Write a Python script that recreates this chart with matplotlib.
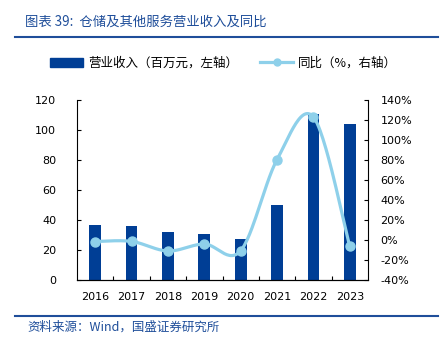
import matplotlib
matplotlib.use("Agg")
import matplotlib.pyplot as plt
import numpy as np
from matplotlib.ticker import FuncFormatter

plt.rcParams['font.family'] = ['Noto Sans CJK SC', 'DejaVu Sans']

years = ['2016', '2017', '2018', '2019', '2020', '2021', '2022', '2023']
revenue = [36.7, 36.2, 32.2, 30.9, 27.6, 49.8, 110.8, 103.8]   # 百万元
yoy = [-1.5, -1.4, -11.0, -4.0, -10.7, 80.5, 123.0, -6.3]       # %

bar_color = '#003E95'
line_color = '#8ED0EA'
title_color = '#1F4E9A'


def smooth(xs, ys, n=30):
    # bezier smoothing through the points, like excel's smoothed line
    xs = np.asarray(xs, float)
    ys = np.asarray(ys, float)
    px, py = [], []
    for i in range(len(xs) - 1):
        x0, y0 = xs[max(i - 1, 0)], ys[max(i - 1, 0)]
        x1, y1 = xs[i], ys[i]
        x2, y2 = xs[i + 1], ys[i + 1]
        x3, y3 = xs[min(i + 2, len(xs) - 1)], ys[min(i + 2, len(xs) - 1)]
        c1x, c1y = x1 + (x2 - x0) / 6, y1 + (y2 - y0) / 6
        c2x, c2y = x2 - (x3 - x1) / 6, y2 - (y3 - y1) / 6
        t = np.linspace(0, 1, n)
        px.extend((1-t)**3*x1 + 3*(1-t)**2*t*c1x + 3*(1-t)*t**2*c2x + t**3*x2)
        py.extend((1-t)**3*y1 + 3*(1-t)**2*t*c1y + 3*(1-t)*t**2*c2y + t**3*y2)
    return px, py


fig = plt.figure(figsize=(4.47, 3.42), dpi=100)
ax = fig.add_axes([77/447, 1 - 280/342, 291/447, 180/342])
x = np.arange(len(years))
ax.bar(x, revenue, width=0.32, color=bar_color, zorder=2)
ax.set_xlim(-0.5, len(years) - 0.5)
ax.set_ylim(0, 120)
ax.set_yticks(np.arange(0, 121, 20))
ax.set_xticks(x)
ax.set_xticklabels(years, fontsize=8, family='DejaVu Sans')
ax.set_xticks(np.arange(0.5, len(years) - 1, 1), minor=True)
ax.tick_params(axis='x', which='major', length=0, pad=9)
ax.tick_params(axis='x', which='minor', direction='in', length=3, width=0.8)
ax.tick_params(axis='y', direction='in', length=3, width=0.8, labelsize=8, pad=15)
for lab in ax.get_yticklabels():
    lab.set_family('DejaVu Sans')
ax.spines['top'].set_visible(False)
ax.spines['right'].set_visible(False)

ax2 = ax.twinx()
sx, sy = smooth(x, yoy)
ax2.plot(sx, sy, color=line_color, lw=2.3, zorder=3)
ax2.plot(x, yoy, 'o', color=line_color, ms=6.5, zorder=4)
ax2.set_ylim(-40, 140)
ax2.set_yticks(np.arange(-40, 141, 20))
ax2.yaxis.set_major_formatter(FuncFormatter(lambda v, p: f'{v:.0f}%'))
ax2.tick_params(axis='y', direction='in', length=3, width=0.8, labelsize=8, pad=9)
for lab in ax2.get_yticklabels():
    lab.set_family('DejaVu Sans')
ax2.spines['top'].set_visible(False)
ax2.spines['left'].set_visible(False)
ax2.set_zorder(ax.get_zorder() + 1)
ax2.patch.set_visible(False)

# legend
h1 = plt.Rectangle((0, 0), 1, 1, color=bar_color)
h2, = plt.plot([], [], color=line_color, lw=2.3, marker='o', ms=5)
fig.legend([h1, h2], ['营业收入（百万元，左轴）', '同比（%，右轴）'],
           loc='center', bbox_to_anchor=(0.5, 1 - 63/342), ncol=2, frameon=False,
           fontsize=9, handlelength=2.6, columnspacing=1.8, handletextpad=0.4)

# title and footer
fig.text(25/447, 1 - 22/342, '图表 39:  仓储及其他服务营业收入及同比', color=title_color,
         fontsize=9.6, va='center', ha='left', style='italic')
fig.add_artist(plt.Line2D([15/447, 438/447], [1 - 37/342] * 2, color=title_color, lw=1.5))
fig.add_artist(plt.Line2D([15/447, 438/447], [1 - 316/342] * 2, color=title_color, lw=1.5))
fig.text(27/447, 1 - 327/342, '资料来源：Wind，国盛证券研究所', color=title_color,
         fontsize=9, va='center', ha='left', style='italic')

fig.savefig('out.png', dpi=100)
